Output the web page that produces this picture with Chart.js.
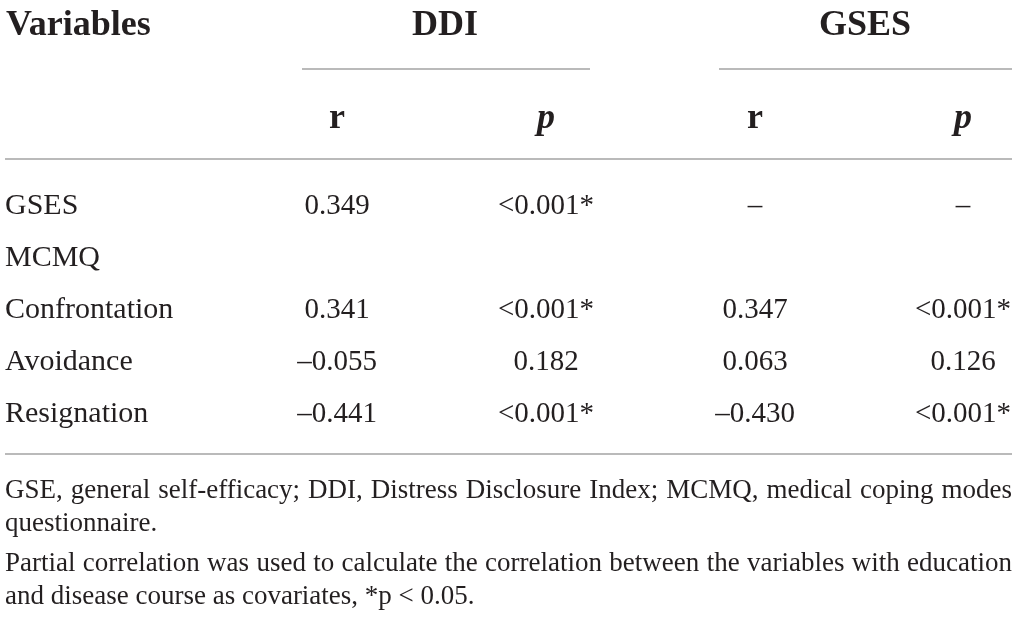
<!DOCTYPE html>
<html>
<head>
<meta charset="utf-8">
<script src="https://cdn.jsdelivr.net/npm/chart.js@4"></script>
<style>
  html, body { margin: 0; padding: 0; background: #fff; }
  #wrap { width: 1017px; height: 620px; }
</style>
</head>
<body>
<div id="wrap"><canvas id="tableChart" width="1017" height="620"></canvas></div>
<script>
// table content
const variables = ['GSES', 'MCMQ', 'Confrontation', 'Avoidance', 'Resignation'];
const ddiR = [0.349, null, 0.341, -0.055, -0.441];
const ddiP = ['<0.001*', '', '<0.001*', '0.182', '<0.001*'];
const gsesR = ['–', '', 0.347, 0.063, -0.430];
const gsesP = ['–', '', '<0.001*', '0.126', '<0.001*'];
const groupHeaders = ['DDI', 'GSES'];
const subHeaders = ['r', 'p', 'r', 'p'];
const footnotes = [
    'GSE, general self-efficacy; DDI, Distress Disclosure Index; MCMQ, medical coping modes',
    'questionnaire.',
    'Partial correlation was used to calculate the correlation between the variables with education',
    'and disease course as covariates, *p < 0.05.'
];

// layout (in scale units, 1 unit = 1 px)
const colX = [5, 337, 546, 755, 963];
const groupX = [445, 865];
const rowY = [214, 266, 318, 370, 422];
const footY = [498, 531, 571, 604];
const justified = [true, false, true, false];

const FONT = '"Liberation Serif", "DejaVu Serif", serif';
const TEXT = '#231f20';
const RULE = '#a3a3a3';

function fmt(v) {
    if (v === null || v === '') return '';
    if (typeof v === 'string') return v;
    return (v < 0 ? '–' : '') + Math.abs(v).toFixed(3);
}

const columns = [variables, ddiR, ddiP, gsesR, gsesP];

const tablePlugin = {
    id: 'tablePlugin',
    afterDatasetsDraw(chart) {
        const c = chart.ctx;
        const xs = chart.scales.x;
        const ys = chart.scales.y;
        const X = v => xs.getPixelForValue(v);
        const Y = v => ys.getPixelForValue(v);
        c.save();
        c.fillStyle = TEXT;
        c.textBaseline = 'alphabetic';

        // header row 1
        c.font = 'bold 36px ' + FONT;
        c.textAlign = 'left';
        c.fillText('Variables', X(6), Y(35));
        c.textAlign = 'center';
        groupHeaders.forEach((h, i) => c.fillText(h, X(groupX[i]), Y(35)));

        // header row 2
        subHeaders.forEach((h, i) => {
            c.font = (h === 'p' ? 'italic bold ' : 'bold ') + '36px ' + FONT;
            c.fillText(h, X(colX[i + 1]), Y(128));
        });

        // rules
        c.strokeStyle = RULE;
        c.lineWidth = 1.5;
        const rule = (x0, x1, y) => {
            c.beginPath();
            c.moveTo(X(x0), Y(y));
            c.lineTo(X(x1), Y(y));
            c.stroke();
        };
        rule(302, 590, 69);
        rule(719, 1012, 69);
        rule(5, 1012, 159);
        rule(5, 1012, 454);

        // cells, placed at the dataset points
        chart.data.datasets.forEach((ds, di) => {
            const meta = chart.getDatasetMeta(di);
            c.font = (di === 0 ? '30px ' : '29px ') + FONT;
            c.textAlign = di === 0 ? 'left' : 'center';
            meta.data.forEach((el, i) => {
                c.fillText(fmt(columns[di][i]), el.x, el.y);
            });
        });

        // footnotes
        c.font = '27px ' + FONT;
        c.textAlign = 'left';
        footnotes.forEach((line, i) => {
            const left = X(5), right = X(1012);
            if (!justified[i]) {
                c.fillText(line, left, Y(footY[i]));
                return;
            }
            const words = line.split(' ');
            const total = words.reduce((s, w) => s + c.measureText(w).width, 0);
            const gap = (right - left - total) / (words.length - 1);
            let x = left;
            words.forEach(w => {
                c.fillText(w, x, Y(footY[i]));
                x += c.measureText(w).width + gap;
            });
        });
        c.restore();
    }
};

const ctx = document.getElementById('tableChart').getContext('2d');
const tableChart = new Chart(ctx, {
    type: 'scatter',
    data: {
        datasets: columns.map((col, ci) => ({
            label: ci === 0 ? 'Variables' : subHeaders[ci - 1],
            data: col.map((v, ri) => ({ x: colX[ci], y: rowY[ri] })),
            pointRadius: 0,
            pointHoverRadius: 0
        }))
    },
    options: {
        responsive: false,
        animation: false,
        layout: { padding: 0 },
        plugins: { legend: { display: false }, tooltip: { enabled: false } },
        scales: {
            x: { type: 'linear', display: false, min: 0, max: 1017 },
            y: { type: 'linear', display: false, min: 0, max: 620, reverse: true }
        }
    },
    plugins: [tablePlugin]
});
</script>
</body>
</html>
